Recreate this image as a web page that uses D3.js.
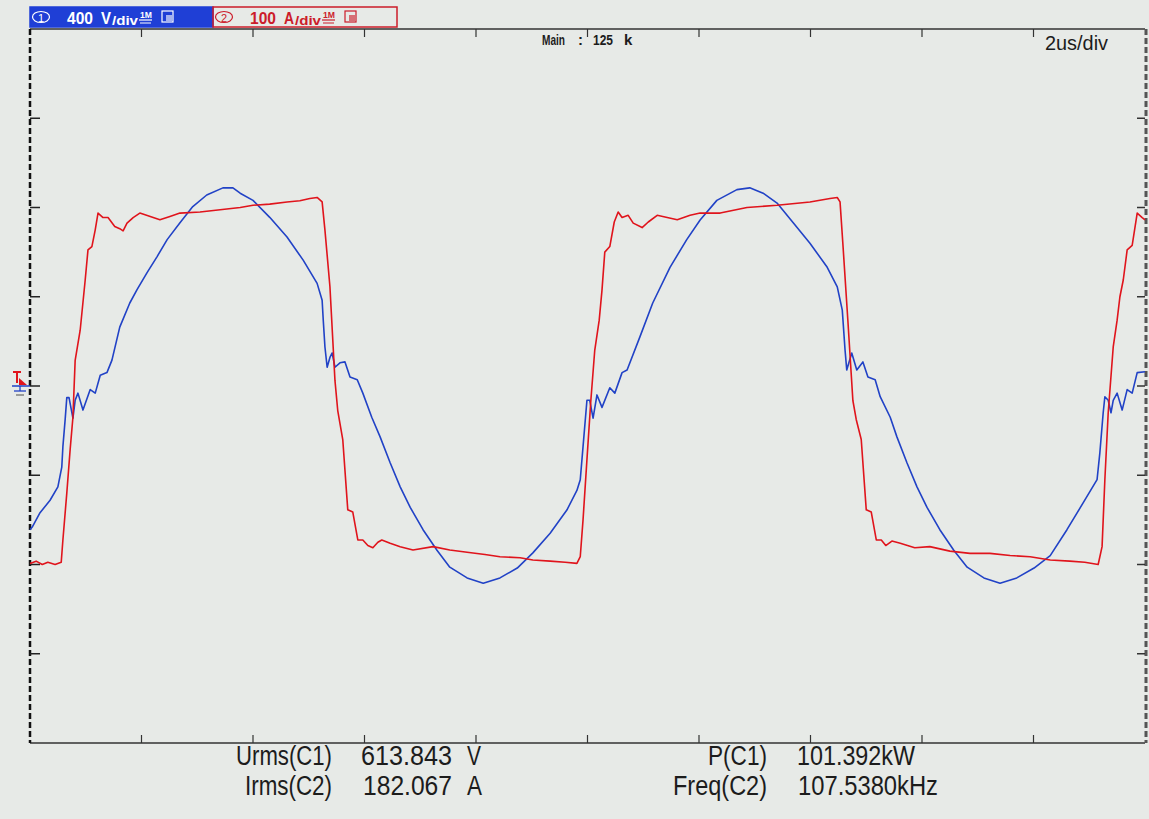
<!DOCTYPE html>
<html>
<head>
<meta charset="utf-8">
<script src="https://cdn.jsdelivr.net/npm/d3@7"></script>
<style>
  body { margin: 0; background: #e7eae7; }
  svg { display: block; }
</style>
</head>
<body>
<div id="scope"></div>
<script>
// scope settings
var timePerDiv = 2;      // us/div
var voltPerDiv = 400;    // V/div  (C1)
var ampPerDiv = 100;     // A/div  (C2)
var nDivX = 10, nDivY = 8;

// C1 voltage trace: time (us), volts
var vTime = [0, 0.11, 0.22, 0.32, 0.45, 0.56, 0.59, 0.66, 0.72, 0.77, 0.81, 0.90, 0.99, 1.04, 1.11, 1.17, 1.22,
  1.31, 1.40, 1.52, 1.61, 1.67, 1.74, 1.85, 1.97, 2.21, 2.33, 2.51, 2.69, 3.05, 3.41, 3.77, 4.00, 4.30, 4.61,
  4.84, 5.02, 5.15, 5.24, 5.29, 5.38, 5.47, 5.52, 5.61, 5.70, 5.79, 5.88, 5.97, 6.06, 6.15, 6.24, 6.31, 6.46,
  6.64, 6.87, 7.23, 7.53, 7.84, 8.16, 8.43, 8.79, 9.02, 9.33, 9.60, 9.81, 9.87, 9.92, 9.99, 10.06, 10.13,
  10.21, 10.26, 10.31, 10.40, 10.48, 10.55, 10.62, 10.73, 10.82, 10.98, 11.09, 11.25, 11.43, 11.61, 11.84,
  12.02, 12.38, 12.86, 13.40, 13.99, 14.35, 14.48, 14.53, 14.58, 14.67, 14.76, 14.82, 14.91, 15.00, 15.09,
  15.18, 15.27, 15.35, 15.46, 15.61, 15.87, 16.14, 16.50, 16.86, 17.22, 17.58, 17.94, 18.30, 18.65, 18.92,
  19.16, 19.23, 19.28, 19.34, 19.43, 19.50, 19.55, 19.61, 19.68, 19.77, 19.86, 19.95, 20.0];
var vVolt = [-795, -785, -800, -790, -800, -790, -690, -480, -285, -140, 115, 250, 475, 610, 625, 700, 775,
  755, 755, 715, 705, 695, 730, 755, 775, 755, 745, 760, 775, 780, 790, 800, 810, 815, 825,
  830, 840, 845, 825, 700, 445, 25, -110, -240, -555, -565, -690, -690, -715, -725, -700, -690, -705,
  -720, -735, -720, -735, -745, -755, -765, -770, -780, -785, -790, -795, -765, -600, -330, -65, 160,
  295, 430, 600, 625, 735, 780, 755, 765, 730, 710, 735, 765, 755, 745, 765,
  775, 775, 800, 810, 825, 840, 845, 825, 640, 295, -65, -150, -240, -555, -565,
  -690, -690, -715, -695, -705, -725, -720, -740, -750, -750, -760, -765, -780, -785, -790,
  -800, -720, -420, -120, 175, 295, 400, 475, 610, 630, 775, 755, 745];

// C2 current trace: time (us), amps
var iTime = [0, 0.04, 0.18, 0.36, 0.50, 0.57, 0.59, 0.63, 0.66, 0.70, 0.77, 0.81, 0.86, 0.95, 1.08, 1.17, 1.26,
  1.38, 1.47, 1.61, 1.79, 1.92, 2.10, 2.28, 2.46, 2.69, 2.92, 3.17, 3.46, 3.64, 3.77, 4.00, 4.30, 4.61, 4.90,
  5.15, 5.24, 5.26, 5.29, 5.33, 5.38, 5.42, 5.47, 5.56, 5.65, 5.74, 5.87, 5.97, 6.13, 6.28, 6.46, 6.64, 6.82,
  7.05, 7.30, 7.53, 7.84, 8.13, 8.43, 8.74, 9.02, 9.33, 9.63, 9.81, 9.87, 9.92, 9.99, 10.04, 10.10, 10.17,
  10.26, 10.40, 10.49, 10.62, 10.71, 10.94, 11.17, 11.48, 11.78, 12.02, 12.32, 12.68, 12.91, 13.15, 13.40,
  13.69, 13.99, 14.30, 14.48, 14.57, 14.62, 14.65, 14.74, 14.83, 14.94, 15.03, 15.16, 15.25, 15.43, 15.55,
  15.73, 15.91, 16.09, 16.32, 16.57, 16.81, 17.11, 17.40, 17.70, 18.01, 18.30, 18.60, 18.89, 19.14, 19.19,
  19.25, 19.28, 19.34, 19.39, 19.43, 19.50, 19.59, 19.68, 19.77, 19.86, 20.0];
var iAmp = [-161, -158, -142, -128, -113, -91, -68, -38, -13, -13, -36, -16, -8, -27, -4, -8, 12,
  15, 29, 66, 93, 108, 127, 145, 164, 183, 201, 214, 222, 222, 216, 208, 189, 167, 141,
  115, 96, 74, 44, 21, 32, 37, 21, 26, 27, 10, 7, -8, -35, -57, -86, -113, -136,
  -161, -184, -203, -215, -221, -215, -204, -187, -165, -139, -117, -105, -68, -16, -16, -36, -10,
  -24, -2, -8, 15, 18, 55, 93, 133, 164, 186, 208, 220, 222, 216, 205,
  183, 160, 133, 111, 85, 40, 18, 37, 18, 27, 10, 7, -12, -35, -57,
  -86, -113, -136, -161, -184, -203, -215, -221, -215, -204, -190, -161, -131, -105, -75,
  -30, -12, -16, -30, -16, -8, -27, -4, -8, 15, 16];

// readouts
var readLeft = [["Urms(C1)", "613.843", "V"], ["Irms(C2)", "182.067", "A"]];
var readRight = [["P(C1)", "101.392kW"], ["Freq(C2)", "107.5380kHz"]];

var width = 1149, height = 819;
// NB: "top" clashes with window.top, so use pl/pr/pt/pb
var pl = 30, pr = 1145, pt = 29, pb = 743;
var bg = "#e7eae7";
var redC = "#e0141c", blueC = "#2142c6", ink = "#1c1c1c";
var font = "Liberation Sans, Arial, sans-serif";

var svg = d3.select("#scope").append("svg")
    .attr("width", width)
    .attr("height", height);

svg.append("rect").attr("width", width).attr("height", height).attr("fill", bg);

var x = d3.scaleLinear().domain([0, nDivX * timePerDiv]).range([pl, pr]);
var yV = d3.scaleLinear().domain([-nDivY / 2 * voltPerDiv, nDivY / 2 * voltPerDiv]).range([pb, pt]);
var yA = d3.scaleLinear().domain([-nDivY / 2 * ampPerDiv, nDivY / 2 * ampPerDiv]).range([pb, pt]);

// frame: solid top/bottom, dashed sides
var xDivs = d3.range(1, nDivX).map(function(d) { return d * timePerDiv; });
var yDivs = d3.range(1, nDivY).map(function(d) { return (d - nDivY / 2) * voltPerDiv; });

var frame = svg.append("g");
frame.append("line").attr("x1", pl).attr("x2", pr).attr("y1", pt).attr("y2", pt)
    .attr("stroke", "#333").attr("stroke-width", 1.5);
frame.append("line").attr("x1", pl).attr("x2", pr).attr("y1", pb).attr("y2", pb)
    .attr("stroke", "#333").attr("stroke-width", 1.5);
frame.append("line").attr("x1", pl).attr("x2", pl).attr("y1", pt).attr("y2", pb)
    .attr("stroke", "#111").attr("stroke-width", 2.5).attr("stroke-dasharray", "6,3");
frame.append("line").attr("x1", pr + 1).attr("x2", pr + 1).attr("y1", pt).attr("y2", pb)
    .attr("stroke", "#555").attr("stroke-width", 3).attr("stroke-dasharray", "6,3");

// division ticks on the inside of each edge
frame.selectAll(".tickTop").data(xDivs).enter().append("line")
    .attr("x1", function(d) { return x(d); }).attr("x2", function(d) { return x(d); })
    .attr("y1", pt).attr("y2", pt + 8).attr("stroke", "#333").attr("stroke-width", 1.2);
frame.selectAll(".tickBot").data(xDivs).enter().append("line")
    .attr("x1", function(d) { return x(d); }).attr("x2", function(d) { return x(d); })
    .attr("y1", pb).attr("y2", pb - 8).attr("stroke", "#333").attr("stroke-width", 1.2);
frame.selectAll(".tickL").data(yDivs).enter().append("line")
    .attr("x1", pl).attr("x2", pl + 10)
    .attr("y1", function(d) { return yV(d); }).attr("y2", function(d) { return yV(d); })
    .attr("stroke", "#222").attr("stroke-width", 1.5);
frame.selectAll(".tickR").data(yDivs).enter().append("line")
    .attr("x1", pr - 8).attr("x2", pr)
    .attr("y1", function(d) { return yV(d); }).attr("y2", function(d) { return yV(d); })
    .attr("stroke", "#333").attr("stroke-width", 1.5);

// traces
var lineV = d3.line().x(function(d) { return x(d[0]); }).y(function(d) { return yV(d[1]); });
var lineA = d3.line().x(function(d) { return x(d[0]); }).y(function(d) { return yA(d[1]); });

svg.append("path").datum(d3.zip(iTime, iAmp))
    .attr("d", lineA).attr("fill", "none")
    .attr("stroke", blueC).attr("stroke-width", 1.6).attr("stroke-linejoin", "round");
svg.append("path").datum(d3.zip(vTime, vVolt))
    .attr("d", lineV).attr("fill", "none")
    .attr("stroke", redC).attr("stroke-width", 1.6).attr("stroke-linejoin", "round");

// ground / level marker on the left
var gy = yV(0);
var gm = svg.append("g");
gm.append("line").attr("x1", 13).attr("x2", 21).attr("y1", gy - 14).attr("y2", gy - 14).attr("stroke", redC).attr("stroke-width", 2);
gm.append("line").attr("x1", 17).attr("x2", 17).attr("y1", gy - 14).attr("y2", gy - 3).attr("stroke", redC).attr("stroke-width", 2);
gm.append("path").attr("d", "M19," + (gy - 8) + "L27," + (gy - 1) + "L19," + (gy - 1) + "Z").attr("fill", redC);
gm.append("line").attr("x1", 12).attr("x2", 30).attr("y1", gy).attr("y2", gy).attr("stroke", blueC).attr("stroke-width", 1.5);
gm.append("line").attr("x1", 20).attr("x2", 20).attr("y1", gy).attr("y2", gy + 5).attr("stroke", blueC).attr("stroke-width", 1.3);
gm.append("line").attr("x1", 14).attr("x2", 26).attr("y1", gy + 5).attr("y2", gy + 5).attr("stroke", blueC).attr("stroke-width", 1.3);
gm.append("line").attr("x1", 16).attr("x2", 24).attr("y1", gy + 9).attr("y2", gy + 9).attr("stroke", "#666").attr("stroke-width", 1.2);

// channel header boxes
function chanBox(x0, x1, fillC, textC, num, scaleTxt, unit) {
  var g = svg.append("g");
  g.append("rect").attr("x", x0).attr("y", 7).attr("width", x1 - x0).attr("height", 20)
      .attr("fill", fillC).attr("stroke", fillC == "none" ? textC : fillC).attr("stroke-width", 1.5);
  g.append("ellipse").attr("cx", x0 + 11).attr("cy", 17).attr("rx", 8.5).attr("ry", 5.5)
      .attr("fill", "none").attr("stroke", textC).attr("stroke-width", 1.2);
  g.append("text").attr("x", x0 + 11).attr("y", 21.5).attr("text-anchor", "middle")
      .attr("font-family", font).attr("font-size", 11)
      .attr("fill", textC).text(num);
  g.append("text").attr("x", x0 + 37).attr("y", 24)
      .attr("font-family", font).attr("font-size", 17).attr("font-weight", "bold")
      .attr("textLength", 26).attr("lengthAdjust", "spacingAndGlyphs")
      .attr("fill", textC).text(scaleTxt);
  g.append("text").attr("x", x0 + 71).attr("y", 24)
      .attr("font-family", font).attr("font-size", 17).attr("font-weight", "bold")
      .attr("textLength", 10).attr("lengthAdjust", "spacingAndGlyphs")
      .attr("fill", textC).text(unit);
  g.append("text").attr("x", x0 + 82).attr("y", 25)
      .attr("font-family", font).attr("font-size", 12).attr("font-weight", "bold")
      .attr("textLength", 26).attr("lengthAdjust", "spacingAndGlyphs")
      .attr("fill", textC).text("/div");
  // 1M icon + memory icon
  g.append("text").attr("x", x0 + 110).attr("y", 18)
      .attr("font-family", font).attr("font-size", 9).attr("font-weight", "bold")
      .attr("textLength", 12).attr("lengthAdjust", "spacingAndGlyphs")
      .attr("fill", textC).text("1M");
  g.append("line").attr("x1", x0 + 109).attr("x2", x0 + 122).attr("y1", 20).attr("y2", 20).attr("stroke", textC).attr("stroke-width", 1.2);
  g.append("line").attr("x1", x0 + 110).attr("x2", x0 + 121).attr("y1", 23).attr("y2", 23).attr("stroke", textC).attr("stroke-width", 1);
  g.append("rect").attr("x", x0 + 132).attr("y", 11).attr("width", 11).attr("height", 11)
      .attr("fill", "none").attr("stroke", textC).attr("stroke-width", 1.2);
  g.append("rect").attr("x", x0 + 136).attr("y", 15).attr("width", 6).attr("height", 6)
      .attr("fill", textC).attr("opacity", 0.6);
}
chanBox(30, 213, "#1f3fd6", "#ffffff", "1", "400", "V");
chanBox(213, 397, "none", "#cc1c2a", "2", "100", "A");

// top labels
function topLabel(txt, x0, len) {
  var t = svg.append("text").attr("x", x0).attr("y", 45).attr("font-family", font).attr("font-size", 15)
      .attr("font-weight", "bold").attr("fill", ink).text(txt);
  if (len) t.attr("textLength", len).attr("lengthAdjust", "spacingAndGlyphs");
}
topLabel("Main", 542, 23);
topLabel(":", 578);
topLabel("125", 593, 20);
topLabel("k", 624);
svg.append("text").attr("x", 1045).attr("y", 50).attr("font-family", font).attr("font-size", 20)
    .attr("textLength", 63).attr("lengthAdjust", "spacingAndGlyphs")
    .attr("fill", ink).text(timePerDiv + "us/div");

// readouts under the grid
function readout(txt, xStart, xEnd, base) {
  svg.append("text").attr("x", xStart).attr("y", base).attr("font-family", font).attr("font-size", 27)
      .attr("fill", ink).attr("textLength", xEnd - xStart).attr("lengthAdjust", "spacingAndGlyphs").text(txt);
}
var baseY = [765, 795];
readLeft.forEach(function(r, i) {
  readout(r[0], i == 0 ? 236 : 245, 332, baseY[i]);
  readout(r[1], i == 0 ? 361 : 363, 452, baseY[i]);
  readout(r[2], 467, i == 0 ? 481 : 482, baseY[i]);
});
readRight.forEach(function(r, i) {
  readout(r[0], i == 0 ? 708 : 673, 767, baseY[i]);
  readout(r[1], i == 0 ? 797 : 798, i == 0 ? 915 : 938, baseY[i]);
});
</script>
</body>
</html>
